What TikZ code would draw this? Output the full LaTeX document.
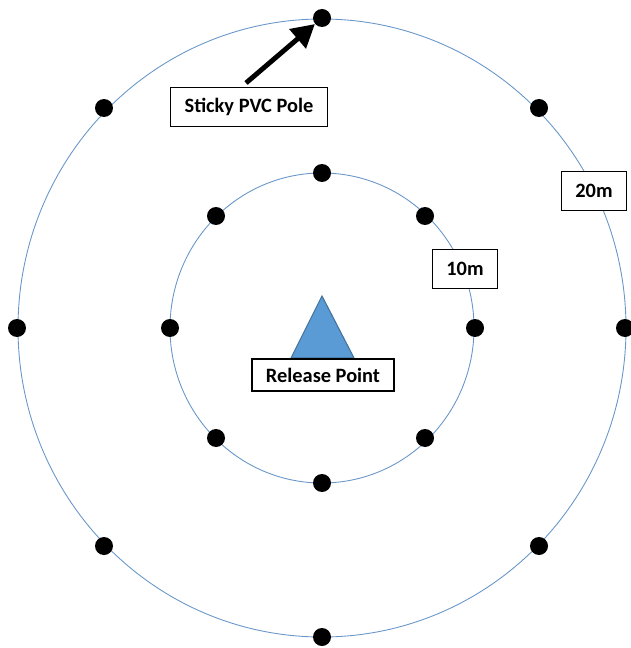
\documentclass[tikz,border=0pt]{standalone}
\usepackage{fontspec}
\setmainfont{Carlito}
\usetikzlibrary{arrows.meta}
\definecolor{ringblue}{RGB}{104,150,200}
\definecolor{coneblue}{RGB}{91,155,213}
\definecolor{coneedge}{RGB}{65,113,156}
\begin{document}
\begin{tikzpicture}[x=0.02cm,y=-0.02cm,
           ring_style/.style={draw=ringblue,line width=0.5pt},
           pole_style/.style={circle,fill=black,inner sep=0pt,minimum size=0.36cm},
           label_style/.style={draw=black,fill=white,line width=0.8pt,inner xsep=8pt,
                               minimum height=22pt,font=\fontsize{11.6}{14}\selectfont\bfseries},
           arrow_style/.style={draw=black,line width=2.8pt,-{Triangle[length=13pt,width=14pt]}}]
            \useasboundingbox (0,0) rectangle (630,648);
            \draw[ring_style] (322,328) ellipse [x radius=304, y radius=309];
            \draw[ring_style] (322,328) ellipse [x radius=152, y radius=155];
            % outer ring
            \node[pole_style] (o0) at (322, 18)  {};
            \node[pole_style] (o1) at (539,108)  {};
            \node[pole_style] (o2) at (625,328)  {};
            \node[pole_style] (o3) at (539,546)  {};
            \node[pole_style] (o4) at (322,637)  {};
            \node[pole_style] (o5) at (104,546)  {};
            \node[pole_style] (o6) at ( 17,328)  {};
            \node[pole_style] (o7) at (104,108)  {};
            % inner ring
            \node[pole_style] (i0) at (322,173)  {};
            \node[pole_style] (i1) at (425,216)  {};
            \node[pole_style] (i2) at (475,328)  {};
            \node[pole_style] (i3) at (425,438)  {};
            \node[pole_style] (i4) at (322,483)  {};
            \node[pole_style] (i5) at (216,438)  {};
            \node[pole_style] (i6) at (170,328)  {};
            \node[pole_style] (i7) at (216,216)  {};
            % release point
            \draw[fill=coneblue,draw=coneedge,line width=0.6pt] (322,296) -- (354,358) -- (291,358) -- cycle;
            \node[label_style,minimum height=18pt] (release) at (323,375) {Release Point};
            \node[label_style] (dist10) at (465,269) {10m};
            \node[label_style] (dist20) at (594,191) {20m};
            \node[label_style] (pole) at (249,107) {Sticky PVC Pole};
            \coordinate (tail) at (246,83);
            \draw[arrow_style] (tail) -- (o0);
        \end{tikzpicture}
\end{document}
